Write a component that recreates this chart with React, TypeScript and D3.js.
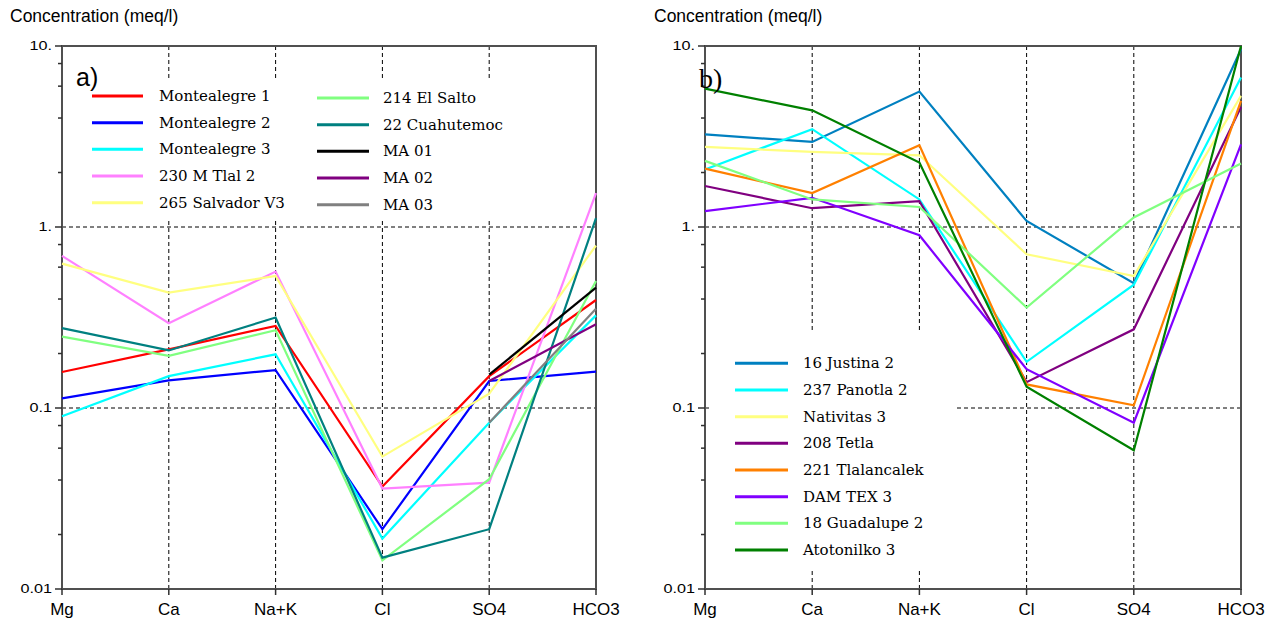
import React from "react";
import * as d3 from "d3";

const categories = ["Mg", "Ca", "Na+K", "Cl", "SO4", "HCO3"];
const majorTicks = [10, 1, 0.1, 0.01];
const majorTickLabels = ["10.", "1.", "0.1", "0.01"];
const minorMultipliers = [2, 4, 6, 8];
const gridValues = [1, 0.1];
const yTitle = "Concentration (meq/l)";

// Panel a)
const montealegre1 = [0.158, 0.211, 0.284, 0.0368, 0.15, 0.395];
const montealegre2 = [0.113, 0.142, 0.162, 0.0214, 0.141, 0.159];
const montealegre3 = [0.09, 0.15, 0.198, 0.019, 0.083, 0.325];
const mTlal2 = [0.692, 0.294, 0.567, 0.0359, 0.0387, 1.54];
const salvadorV3 = [0.628, 0.434, 0.536, 0.0539, 0.12, 0.79];
const elSalto214 = [0.248, 0.194, 0.269, 0.0144, 0.0404, 0.503];
const cuahutemoc22 = [0.276, 0.208, 0.316, 0.0149, 0.0214, 1.12];
const ma01 = [null, null, null, null, 0.153, 0.463];
const ma02 = [null, null, null, null, 0.141, 0.29];
const ma03 = [null, null, null, null, 0.083, 0.354];

const namesA = ["Montealegre 1", "Montealegre 2", "Montealegre 3", "230 M Tlal 2", "265 Salvador V3", "214 El Salto", "22 Cuahutemoc", "MA 01", "MA 02", "MA 03"];
const colorsA = ["#ff0000", "#0000ff", "#00ffff", "#ff80ff", "#ffff80", "#80ff80", "#008080", "#000000", "#800080", "#808080"];
const valuesA = [montealegre1, montealegre2, montealegre3, mTlal2, salvadorV3, elSalto214, cuahutemoc22, ma01, ma02, ma03];

// Panel b)
const justina2 = [3.25, 2.95, 5.6, 1.08, 0.489, 9.6];
const panotla2 = [2.08, 3.47, 1.42, 0.18, 0.48, 6.7];
const nativitas3 = [2.77, 2.6, 2.49, 0.707, 0.536, 5.3];
const tetla208 = [1.685, 1.27, 1.39, 0.139, 0.272, 4.6];
const tlalancalek221 = [2.1, 1.54, 2.83, 0.135, 0.1035, 4.97];
const damTex3 = [1.225, 1.45, 0.9, 0.164, 0.083, 2.86];
const guadalupe2 = [2.32, 1.42, 1.29, 0.359, 1.13, 2.24];
const atotonilko3 = [5.82, 4.41, 2.27, 0.131, 0.0584, 10.0];

const namesB = ["16 Justina 2", "237 Panotla 2", "Nativitas 3", "208 Tetla", "221 Tlalancalek", "DAM TEX 3", "18 Guadalupe 2", "Atotonilko 3"];
const colorsB = ["#0080c0", "#00ffff", "#ffff80", "#800080", "#ff8000", "#8000ff", "#80ff80", "#008000"];
const valuesB = [justina2, panotla2, nativitas3, tetla208, tlalancalek221, damTex3, guadalupe2, atotonilko3];

type LegendLayout = {
  box: [number, number, number, number];
  columns: { lineX0: number; lineX1: number; textX: number; y0: number; count: number }[];
  rowStep: number;
};

function Panel(props: {
  x0: number;
  x1: number;
  titleX: number;
  names: string[];
  colors: string[];
  values: (number | null)[][];
  legend: LegendLayout;
  tag: string;
  tagX: number;
  tagY: number;
  tagFont: string;
  tagSize: number;
}) {
  const { x0, x1, names, colors, values, legend } = props;
  const x = d3.scalePoint<string>().domain(categories).range([x0, x1]);
  const y = d3.scaleLog().domain([0.01, 10]).range([589, 46]);
  const line = d3
    .line<number | null>()
    .defined((d) => d != null)
    .x((_, i) => x(categories[i]) as number)
    .y((d) => y(d as number));

  const minors: number[] = [];
  [0.01, 0.1, 1].forEach((dec) => minorMultipliers.forEach((m) => minors.push(dec * m)));

  const inner = categories.slice(1, -1);
  const [bx, by, bw, bh] = legend.box;

  let idx = 0;
  const legendItems: JSX.Element[] = [];
  legend.columns.forEach((col, ci) => {
    for (let r = 0; r < col.count; r++) {
      const i = idx++;
      const ly = col.y0 + r * legend.rowStep;
      legendItems.push(
        <g key={`lg${ci}-${r}`}>
          <line x1={col.lineX0} x2={col.lineX1} y1={ly} y2={ly} stroke={colors[i]} strokeWidth={3} />
          <text x={col.textX} y={ly + 5} fontFamily="DejaVu Serif" fontSize={15} fill="#000">
            {names[i]}
          </text>
        </g>
      );
    }
  });

  return (
    <g>
      <text x={props.titleX} y={22} fontFamily="Liberation Sans" fontSize={17.5} fill="#000">
        {yTitle}
      </text>
      {gridValues.map((v) => (
        <line key={`h${v}`} x1={x0} x2={x1} y1={y(v)} y2={y(v)} stroke="#000" strokeWidth={1} strokeDasharray="4,3" />
      ))}
      {inner.map((c) => (
        <line key={`v${c}`} x1={x(c)} x2={x(c)} y1={46} y2={589} stroke="#000" strokeWidth={1} strokeDasharray="4,3" />
      ))}
      <rect x={bx} y={by} width={bw} height={bh} fill="#fff" />
      <rect x={x0} y={46} width={x1 - x0} height={589 - 46} fill="none" stroke="#505050" strokeWidth={2} />
      {majorTicks.map((v, i) => (
        <g key={`yt${v}`}>
          <line x1={x0 - 7} x2={x0} y1={y(v)} y2={y(v)} stroke="#303030" strokeWidth={1.5} />
          <text
            transform={`translate(${x0 - 10},${y(v) + 4}) scale(1.35,1)`}
            textAnchor="end"
            fontFamily="Liberation Sans"
            fontSize={12}
            fill="#000"
          >
            {majorTickLabels[i]}
          </text>
        </g>
      ))}
      {minors.map((v) => (
        <line key={`ym${v}`} x1={x0 - 4} x2={x0} y1={y(v)} y2={y(v)} stroke="#303030" strokeWidth={1.5} />
      ))}
      {categories.map((c) => (
        <g key={`xt${c}`}>
          <line x1={x(c)} x2={x(c)} y1={589} y2={595} stroke="#303030" strokeWidth={1.5} />
          <text x={x(c)} y={615} textAnchor="middle" fontFamily="Liberation Sans" fontSize={17} fill="#000">
            {c}
          </text>
        </g>
      ))}
      {values.map((vals, i) => (
        <path key={`s${i}`} d={line(vals) || ""} fill="none" stroke={colors[i]} strokeWidth={2.2} strokeLinejoin="miter" />
      ))}
      {legendItems}
      <text x={props.tagX} y={props.tagY} fontFamily={props.tagFont} fontSize={props.tagSize} fill="#000">
        {props.tag}
      </text>
    </g>
  );
}

export default function App() {
  return (
    <svg width={1273} height={622} style={{ position: "absolute", left: 0, top: 0, background: "#fff" }}>
      <rect x={0} y={0} width={1273} height={622} fill="#fff" />
      <Panel
        x0={62}
        x1={596}
        titleX={10}
        names={namesA}
        colors={colorsA}
        values={valuesA}
        legend={{
          box: [64, 80, 470, 139],
          columns: [
            { lineX0: 92, lineX1: 143, textX: 159, y0: 96, count: 5 },
            { lineX0: 317, lineX1: 369, textX: 383, y0: 98, count: 5 },
          ],
          rowStep: 26.67,
        }}
        tag="a)"
        tagX={76}
        tagY={86}
        tagFont="Liberation Sans"
        tagSize={25}
      />
      <Panel
        x0={705}
        x1={1241}
        titleX={654}
        names={namesB}
        colors={colorsB}
        values={valuesB}
        legend={{
          box: [712, 333, 244, 237],
          columns: [{ lineX0: 735, lineX1: 788, textX: 803, y0: 363.3, count: 8 }],
          rowStep: 26.67,
        }}
        tag="b)"
        tagX={699}
        tagY={88}
        tagFont="Liberation Serif"
        tagSize={28}
      />
    </svg>
  );
}
